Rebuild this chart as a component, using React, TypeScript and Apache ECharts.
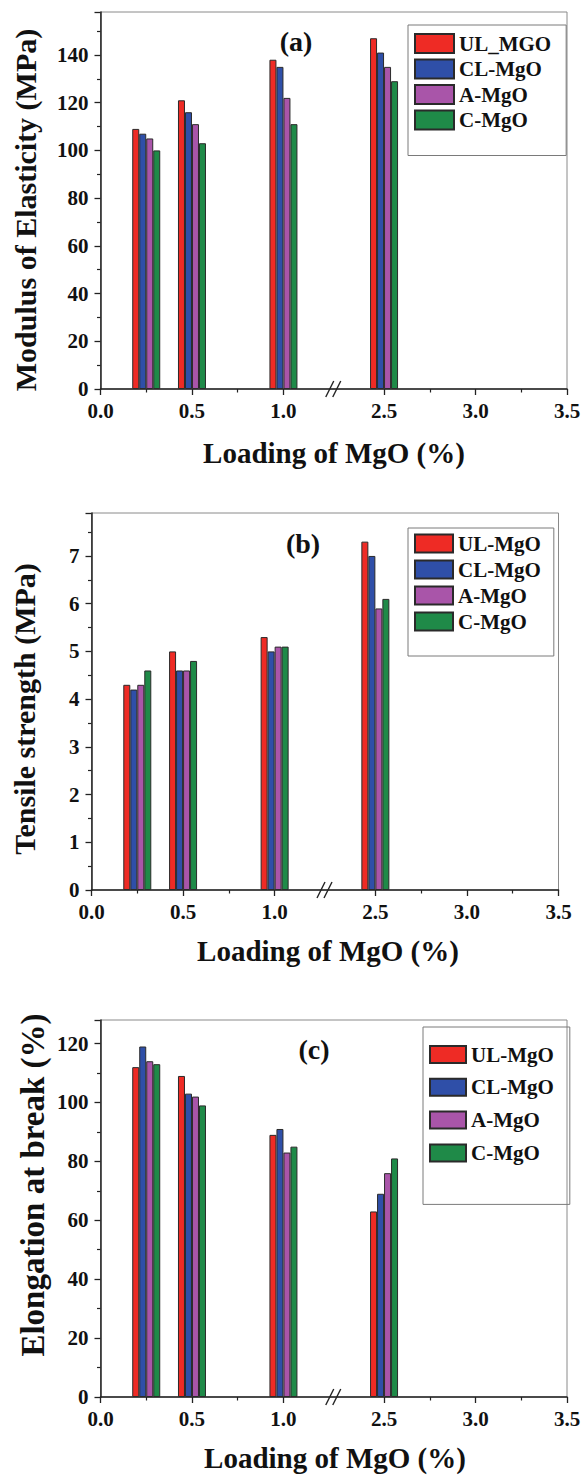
import React, { useEffect, useRef } from "react";
import * as echarts from "echarts";

// ---------- data ----------
const loadings = [0.25, 0.5, 1.0, 2.5];
const xTickValues = [0, 0.5, 1.0, 2.5, 3.0, 3.5];
const xTickLabels = ["0.0", "0.5", "1.0", "2.5", "3.0", "3.5"];
const xMinorTickValues = [0.25, 0.75, 2.75, 3.25];

const namesA = ["UL_MGO", "CL-MgO", "A-MgO", "C-MgO"];
const namesBC = ["UL-MgO", "CL-MgO", "A-MgO", "C-MgO"];

// (a) Modulus of Elasticity (MPa)
const modulusUL = [109, 121, 138, 147];
const modulusCL = [107, 116, 135, 141];
const modulusA = [105, 111, 122, 135];
const modulusC = [100, 103, 111, 129];

// (b) Tensile strength (MPa)
const tensileUL = [4.3, 5.0, 5.3, 7.3];
const tensileCL = [4.2, 4.6, 5.0, 7.0];
const tensileA = [4.3, 4.6, 5.1, 5.9];
const tensileC = [4.6, 4.8, 5.1, 6.1];

// (c) Elongation at break (%)
const elongUL = [112, 109, 89, 63];
const elongCL = [119, 103, 91, 69];
const elongA = [114, 102, 83, 76];
const elongC = [113, 99, 85, 81];

const colors = ["#ee2b25", "#2f4fa8", "#a955a9", "#1f8a48"];

// axis break between 1.0 and 2.5
const breakStart = 1.25;
const breakShift = 0.95;
const toAxis = (v: number) => (v > breakStart ? v - breakShift : v);

const FONT = "'Liberation Serif', 'Times New Roman', serif";

type Panel = {
  names: string[];
  values: number[][];
  yMax: number;
  yInterval: number;
  grid: { left: number; top: number; width: number; height: number };
  legend: { left: number; top: number; padding: number[]; w: number; h: number; gap: number };
  letter: string;
  letterPos: [number, number];
  yTitle: string;
  yTitlePos: [number, number];
  yTitleSize: number;
  xTitlePos: [number, number];
};

const panels: Panel[] = [
  {
    names: namesA,
    values: [modulusUL, modulusCL, modulusA, modulusC],
    yMax: 158,
    yInterval: 20,
    grid: { left: 100.5, top: 12, width: 466.5, height: 377 },
    legend: { left: 408, top: 25, padding: [8, 15, 25, 6], w: 39, h: 19, gap: 4.5 },
    letter: "(a)",
    letterPos: [296, 41],
    yTitle: "Modulus of Elasticity (MPa)",
    yTitlePos: [25, 210],
    yTitleSize: 30,
    xTitlePos: [334, 453],
  },
  {
    names: namesBC,
    values: [tensileUL, tensileCL, tensileA, tensileC],
    yMax: 7.9,
    yInterval: 1,
    grid: { left: 91.5, top: 513, width: 467, height: 377 },
    legend: { left: 408, top: 528, padding: [5, 13, 24, 6], w: 38, h: 18, gap: 5 },
    letter: "(b)",
    letterPos: [303, 543],
    yTitle: "Tensile strength (MPa)",
    yTitlePos: [24, 709],
    yTitleSize: 30,
    xTitlePos: [328, 951],
  },
  {
    names: namesBC,
    values: [elongUL, elongCL, elongA, elongC],
    yMax: 128,
    yInterval: 20,
    grid: { left: 100.5, top: 1020, width: 466.5, height: 377 },
    legend: { left: 423, top: 1027, padding: [17, 16, 41, 6], w: 36, h: 17, gap: 11.8 },
    letter: "(c)",
    letterPos: [314, 1049],
    yTitle: "Elongation at break (%)",
    yTitlePos: [33, 1185],
    yTitleSize: 33,
    xTitlePos: [335, 1458],
  },
];

export default function App() {
  const ref = useRef<HTMLDivElement>(null);

  useEffect(() => {
    document.body.style.margin = "0";
    if (!ref.current) return;
    const chart = echarts.init(ref.current, undefined, { renderer: "svg" });

    const xMax = toAxis(3.5);
    const grids: any[] = [];
    const xAxes: any[] = [];
    const yAxes: any[] = [];
    const legends: any[] = [];
    const series: any[] = [];

    panels.forEach((p, i) => {
      grids.push({
        left: p.grid.left,
        top: p.grid.top,
        width: p.grid.width,
        height: p.grid.height,
        show: true,
        borderColor: "#8a8a8a",
        borderWidth: 1,
        backgroundColor: "transparent",
      });
      xAxes.push({
        type: "value",
        gridIndex: i,
        min: 0,
        max: xMax,
        splitLine: { show: false },
        axisLine: { show: true, onZero: false, lineStyle: { color: "#222", width: 1.5 } },
        axisTick: {
          show: true,
          length: 6,
          customValues: xTickValues.map(toAxis),
          lineStyle: { color: "#222", width: 1.3 },
        },
        axisLabel: {
          show: true,
          customValues: xTickValues.map(toAxis),
          margin: 11,
          fontFamily: FONT,
          fontWeight: "bold",
          fontSize: 21,
          color: "#111",
          formatter: (v: number) => {
            let best = 0;
            xTickValues.forEach((t, k) => {
              if (Math.abs(toAxis(t) - v) < Math.abs(toAxis(xTickValues[best]) - v)) best = k;
            });
            return xTickLabels[best];
          },
        },
      });
      xAxes.push({
        type: "value",
        gridIndex: i,
        min: 0,
        max: xMax,
        position: "bottom",
        splitLine: { show: false },
        axisLine: { show: false },
        axisLabel: { show: false },
        axisTick: {
          show: true,
          length: 3.5,
          customValues: xMinorTickValues.map(toAxis),
          lineStyle: { color: "#222", width: 1.2 },
        },
      });
      yAxes.push({
        type: "value",
        gridIndex: i,
        min: 0,
        max: p.yMax,
        interval: p.yInterval,
        splitLine: { show: false },
        axisLine: { show: true, lineStyle: { color: "#222", width: 1.5 } },
        axisTick: { show: true, length: 6, lineStyle: { color: "#222", width: 1.3 } },
        minorTick: { show: true, splitNumber: 2, length: 3.5, lineStyle: { color: "#222", width: 1.2 } },
        axisLabel: {
          margin: 12,
          fontFamily: FONT,
          fontWeight: "bold",
          fontSize: 21,
          color: "#111",
          formatter: (v: number) => {
            const r = v / p.yInterval;
            return Math.abs(r - Math.round(r)) > 1e-6 ? "" : String(v);
          },
        },
      });
      legends.push({
        orient: "vertical",
        left: p.legend.left,
        top: p.legend.top,
        padding: p.legend.padding,
        itemWidth: p.legend.w,
        itemHeight: p.legend.h,
        itemGap: p.legend.gap,
        borderColor: "#7a7a7a",
        borderWidth: 1,
        icon: "rect",
        data: p.names,
        selectedMode: false,
        textStyle: { fontFamily: FONT, fontWeight: "bold", fontSize: 21, color: "#111" },
      });
      p.values.forEach((vals, s) => {
        series.push({
          type: "bar",
          name: p.names[s],
          xAxisIndex: i * 2,
          yAxisIndex: i,
          barWidth: 7,
          barGap: "0%",
          data: loadings.map((l, k) => [toAxis(l), vals[k]]),
          itemStyle: { color: colors[s], borderColor: "#2a2a2a", borderWidth: 1 },
        });
      });
    });

    chart.setOption({
      animation: false,
      backgroundColor: "#ffffff",
      grid: grids,
      xAxis: xAxes,
      yAxis: yAxes,
      legend: legends,
      series,
    });

    // decorations: titles, panel letters, axis break marks
    const graphics: any[] = [];
    const breakPos = (toAxis(1.0) + toAxis(2.5)) / 2;
    panels.forEach((p, i) => {
      graphics.push({
        type: "text",
        x: p.letterPos[0],
        y: p.letterPos[1],
        style: {
          text: p.letter,
          font: `bold 28px ${FONT}`,
          fill: "#111",
          textAlign: "center",
          textVerticalAlign: "middle",
        },
      });
      graphics.push({
        type: "text",
        x: p.xTitlePos[0],
        y: p.xTitlePos[1],
        style: {
          text: "Loading of MgO (%)",
          font: `bold 29px ${FONT}`,
          fill: "#111",
          textAlign: "center",
          textVerticalAlign: "middle",
        },
      });
      graphics.push({
        type: "text",
        x: p.yTitlePos[0],
        y: p.yTitlePos[1],
        rotation: Math.PI / 2,
        style: {
          text: p.yTitle,
          font: `bold ${p.yTitleSize}px ${FONT}`,
          fill: "#111",
          textAlign: "center",
          textVerticalAlign: "middle",
        },
      });
      const pt = chart.convertToPixel({ xAxisIndex: i * 2, yAxisIndex: i } as any, [breakPos, 0]) as number[];
      if (pt) {
        const [cx, cy] = pt;
        [-4, 3].forEach((dx) => {
          graphics.push({
            type: "line",
            shape: { x1: cx + dx - 4, y1: cy + 8, x2: cx + dx + 4, y2: cy - 8 },
            style: { stroke: "#222", lineWidth: 1.4 },
          });
        });
      }
    });
    chart.setOption({ graphic: graphics });

    return () => chart.dispose();
  }, []);

  return (
    <div
      ref={ref}
      style={{ position: "absolute", left: 0, top: 0, width: 584, height: 1475, background: "#fff" }}
    />
  );
}
